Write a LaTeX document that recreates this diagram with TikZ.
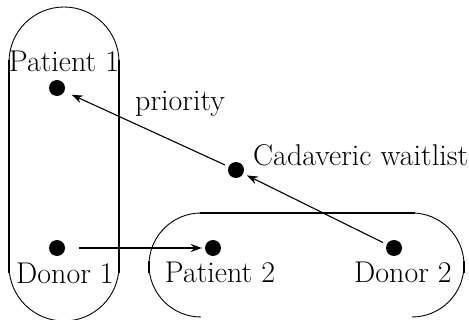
\documentclass[tikz,border=0pt]{standalone}
\usetikzlibrary{arrows.meta}
\begin{document}
\begin{tikzpicture}[x=1pt,y=-1pt,
  dot/.style={circle,fill=black,inner sep=0pt,minimum size=16pt},
  lbl/.style={font=\fontsize{30}{34}\selectfont,inner sep=0pt,anchor=base},
  side/.style={line width=2.6pt},
  arcline/.style={line width=0.9pt},
  conn/.style={line width=1.1pt,-{Stealth[length=11pt,width=8pt]}},
  thickconn/.style={line width=2pt,-{Stealth[length=11pt,width=8pt]}}]
\useasboundingbox (0,0) rectangle (469,320);
% left capsule
\draw[arcline] (9,62) arc[start angle=180,end angle=360,radius=55];
\draw[arcline] (9,266) arc[start angle=180,end angle=0,radius=55];
\draw[side] (9,60) -- (9,273);
\draw[side] (119,60) -- (119,273);
% right capsule
\draw[arcline] (201,213) arc[start angle=270,end angle=90,radius=52];
\draw[arcline] (412,213) arc[start angle=270,end angle=450,radius=52];
\draw[side] (200,213) -- (415,213);
\draw[side] (149,261) -- (149,273);
\draw[side] (464,261) -- (464,273);
% dots
\node[dot] (p1) at (57,88) {};
\node[dot] (d1) at (57,248) {};
\node[dot] (p2) at (213,248) {};
\node[dot] (d2) at (394,248) {};
\node[dot] (cw) at (236,170) {};
% labels
\node[lbl] (lp1) at (64,72) {Patient 1};
\node[lbl] (ld1) at (65,284) {Donor 1};
\node[lbl] (lp2) at (220,283) {Patient 2};
\node[lbl] (ld2) at (403,283) {Donor 2};
\node[lbl,anchor=base west] (lcw) at (253,166) {Cadaveric waitlist};
\node[lbl,anchor=base west] (lpr) at (135,111) {priority};
% connectors
\draw[conn,shorten <=4pt,shorten >=8pt] (cw) -- (p1);
\draw[conn,shorten <=4pt,shorten >=4pt] (d2) -- (cw);
\draw[thickconn,shorten <=14pt,shorten >=3pt] (d1) -- (p2);
\end{tikzpicture}
\end{document}
